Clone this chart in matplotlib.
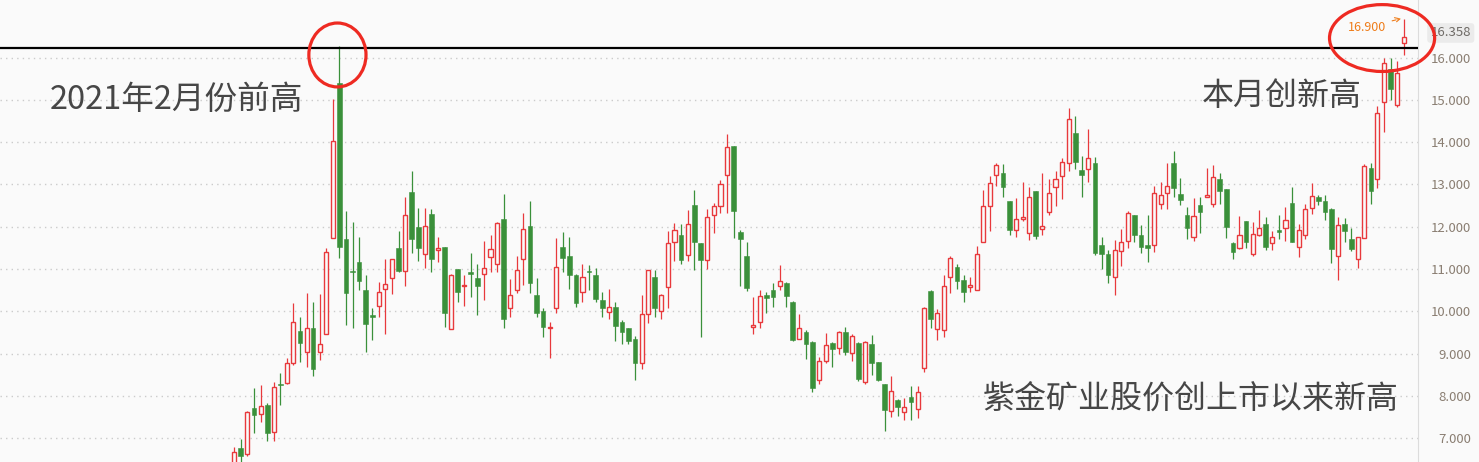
import matplotlib
matplotlib.use("Agg")
import matplotlib.pyplot as plt
import matplotlib.transforms as mtransforms
from matplotlib.patches import Ellipse
import numpy as np

plt.rcParams['font.family'] = ['Noto Sans CJK SC', 'DejaVu Sans']

# weekly candles, oldest first
opens = [6.35, 6.77, 6.64, 7.71, 7.57, 7.79, 7.16, 8.29, 8.32, 8.77,
         9.54, 9.03, 9.62, 9.03, 9.47, 11.73, 15.40, 11.71, 10.93, 11.17,
         10.51, 9.88, 10.12, 10.52, 10.80, 11.49, 10.95, 12.82, 11.99, 11.35,
         12.30, 11.44, 11.52, 9.58, 11.00, 10.59, 10.89, 10.79, 10.88, 11.28,
         11.11, 12.18, 10.07, 10.50, 11.25, 12.02, 10.39, 10.01, 9.60, 10.07,
         11.52, 11.31, 10.86, 10.47, 10.93, 10.86, 10.27, 9.98, 10.10, 9.75,
         9.61, 9.35, 8.77, 9.95, 10.81, 10.00, 10.57, 11.63, 11.81, 11.34,
         12.51, 11.62, 11.21, 12.29, 12.50, 13.22, 13.91, 11.88, 11.31, 9.64,
         9.74, 10.39, 10.51, 10.59, 10.67, 10.22, 9.34, 9.51, 9.28, 8.37,
         8.82, 9.25, 9.13, 9.51, 9.01, 9.25, 8.34, 9.23, 8.80, 8.29,
         7.64, 7.91, 7.62, 7.98, 7.69, 8.66, 10.48, 9.59, 9.55, 10.82,
         11.05, 10.74, 10.58, 10.50, 11.63, 12.48, 13.22, 13.27, 12.61, 11.92,
         12.18, 11.85, 12.85, 11.94, 12.34, 12.93, 13.21, 13.50, 14.22, 13.34,
         13.36, 13.51, 11.56, 11.36, 10.81, 11.42, 11.66, 12.29, 11.80, 11.57,
         11.56, 12.55, 12.81, 13.50, 12.77, 12.29, 11.77, 12.51, 12.70, 12.55,
         13.14, 12.89, 11.61, 11.50, 12.14, 11.35, 11.80, 12.06, 11.61, 11.92,
         11.96, 12.56, 11.52, 11.80, 12.44, 12.70, 12.61, 12.42, 11.30, 12.07,
         11.71, 11.25, 11.74, 13.39, 13.12, 14.94, 15.72, 14.88, 16.34]
highs = [6.79, 6.98, 7.65, 8.19, 8.26, 7.84, 8.33, 8.54, 8.90, 10.20,
         9.87, 10.44, 10.22, 10.41, 11.51, 15.02, 16.27, 12.37, 12.12, 11.76,
         10.86, 10.08, 10.70, 11.25, 11.25, 11.90, 12.70, 13.32, 12.44, 12.44,
         12.42, 11.76, 11.52, 10.88, 11.00, 10.86, 11.38, 11.12, 11.67, 11.81,
         12.12, 12.77, 10.77, 11.31, 12.33, 12.61, 10.79, 10.08, 9.75, 11.73,
         11.88, 11.76, 10.89, 11.12, 11.10, 11.02, 10.46, 10.53, 10.22, 9.80,
         9.61, 9.42, 10.39, 10.99, 10.99, 10.41, 11.90, 12.09, 12.07, 12.40,
         12.87, 11.62, 12.42, 12.56, 13.11, 14.19, 13.91, 11.92, 11.64, 10.34,
         10.51, 10.46, 10.67, 11.10, 10.69, 10.25, 9.94, 9.56, 9.31, 8.92,
         9.49, 9.28, 9.53, 9.63, 9.47, 9.28, 9.30, 9.44, 8.80, 8.29,
         8.47, 7.93, 7.95, 8.24, 8.24, 10.10, 10.51, 10.05, 10.86, 11.31,
         11.12, 10.86, 10.82, 11.55, 12.87, 13.20, 13.51, 13.48, 12.61, 12.67,
         13.06, 12.93, 12.85, 13.27, 13.13, 13.32, 13.63, 14.81, 14.62, 13.67,
         14.31, 13.65, 11.76, 11.44, 11.68, 11.95, 12.37, 12.29, 12.04, 12.28,
         12.96, 13.06, 13.51, 13.79, 13.15, 12.46, 12.68, 12.70, 13.38, 13.45,
         13.27, 12.89, 11.63, 12.25, 12.14, 12.12, 12.40, 12.22, 11.89, 12.28,
         12.46, 12.93, 12.06, 12.54, 13.04, 12.74, 12.74, 12.44, 12.24, 12.20,
         11.97, 11.76, 13.48, 13.50, 14.85, 16.00, 16.00, 15.91, 16.90]
lows = [6.30, 6.40, 6.59, 7.13, 7.39, 6.95, 6.95, 7.80, 8.29, 8.73,
        8.81, 8.69, 8.48, 8.86, 9.47, 11.73, 11.27, 9.68, 9.62, 10.50,
        9.03, 9.33, 9.88, 9.47, 10.42, 10.94, 10.59, 11.37, 11.18, 11.03,
        10.94, 11.16, 9.64, 9.58, 10.23, 10.14, 10.35, 9.92, 10.26, 10.92,
        10.92, 9.62, 9.88, 10.44, 10.63, 10.44, 9.88, 9.40, 8.91, 9.97,
        10.94, 10.54, 10.11, 10.23, 10.51, 10.23, 9.88, 9.83, 9.29, 9.22,
        9.22, 8.37, 8.63, 9.72, 9.88, 9.83, 10.09, 11.20, 11.13, 11.18,
        10.99, 9.40, 11.01, 11.86, 12.33, 12.33, 11.74, 10.61, 10.49, 9.47,
        9.62, 9.97, 10.11, 10.51, 10.11, 9.29, 9.34, 8.88, 8.10, 8.29,
        8.77, 8.69, 9.00, 8.98, 8.84, 8.36, 8.29, 8.50, 8.36, 7.18,
        7.51, 7.54, 7.43, 7.43, 7.49, 8.58, 9.61, 9.33, 9.40, 10.44,
        10.54, 10.23, 10.47, 10.50, 11.63, 11.91, 12.97, 12.71, 11.81, 11.75,
        12.14, 11.68, 11.70, 11.81, 12.29, 12.48, 12.66, 13.33, 13.37, 12.71,
        13.05, 11.34, 11.01, 10.66, 10.40, 11.08, 11.51, 11.65, 11.39, 11.17,
        11.41, 12.41, 12.43, 12.71, 12.52, 11.70, 11.67, 11.86, 12.70, 12.46,
        12.55, 11.74, 11.23, 11.47, 11.49, 11.32, 11.78, 11.45, 11.44, 11.71,
        11.67, 11.63, 11.28, 11.72, 12.30, 12.52, 12.16, 11.14, 10.74, 11.65,
        11.42, 11.02, 11.74, 12.55, 12.91, 14.23, 15.00, 14.84, 16.05]
closes = [6.67, 6.59, 7.62, 7.56, 7.76, 7.13, 8.21, 8.25, 8.77, 9.74,
          9.26, 9.62, 8.65, 9.22, 11.40, 14.02, 11.53, 10.44, 10.92, 10.73,
          9.71, 9.87, 10.45, 10.64, 11.25, 10.96, 12.29, 11.72, 11.51, 12.03,
          11.25, 11.51, 9.97, 10.86, 10.47, 10.62, 10.88, 10.61, 11.02, 11.47,
          12.08, 9.83, 10.40, 10.99, 11.94, 10.66, 9.97, 9.64, 9.63, 11.04,
          11.27, 10.87, 10.21, 10.81, 10.92, 10.30, 10.09, 10.10, 9.66, 9.52,
          9.29, 8.77, 9.93, 10.99, 10.09, 10.38, 11.61, 11.92, 11.22, 12.06,
          11.65, 11.22, 12.22, 12.48, 13.00, 13.88, 12.38, 11.72, 10.56, 9.67,
          10.36, 10.32, 10.35, 10.71, 10.37, 9.33, 9.60, 9.24, 8.20, 8.83,
          9.20, 9.12, 9.51, 9.05, 9.42, 8.41, 9.27, 8.79, 8.39, 7.66,
          8.11, 7.75, 7.73, 7.85, 8.09, 10.07, 9.83, 9.96, 10.59, 11.26,
          10.73, 10.47, 10.60, 11.35, 12.48, 13.03, 13.45, 12.95, 11.93, 12.18,
          12.20, 12.70, 11.79, 12.03, 12.81, 13.12, 13.53, 14.54, 13.52, 13.23,
          13.62, 11.39, 11.35, 10.85, 11.44, 11.63, 12.32, 11.81, 11.53, 11.49,
          12.81, 12.74, 12.96, 12.92, 12.64, 11.96, 12.25, 12.36, 12.72, 13.17,
          12.85, 12.00, 11.40, 11.81, 11.65, 11.82, 11.98, 11.53, 11.77, 11.87,
          12.15, 11.65, 11.92, 12.41, 12.72, 12.62, 12.34, 11.48, 12.04, 11.91,
          11.48, 11.76, 13.44, 12.85, 14.68, 15.86, 15.25, 15.63, 16.49]

price_ticks = [7, 8, 9, 10, 11, 12, 13, 14, 15, 16]
prev_high = 16.23
last_price = "16.358"
max_label = "16.900"

bg = '#fafafa'
up_color = '#e8393c'
down_color = '#3a903a'
text_color = '#464646'

o = np.array(opens)
h = np.array(highs)
l = np.array(lows)
c = np.array(closes)
x = np.arange(len(o))
up = c >= o

fig = plt.figure(figsize=(14.79, 4.62), dpi=100, facecolor=bg)
ax = fig.add_axes([0, 0, 1418 / 1479, 1])
ax.set_facecolor(bg)

for v in price_ticks:
    ax.axhline(v, color='#cbcbcb', lw=1, ls=(0, (1, 3)), zorder=0)

# wicks
ax.vlines(x[up], l[up], h[up], color=up_color, lw=0.9, zorder=2)
ax.vlines(x[~up], l[~up], h[~up], color=down_color, lw=0.9, zorder=2)

# bodies
body = np.maximum(np.abs(c - o), 0.04)
bottom = np.minimum(o, c)
ax.bar(x[up], body[up], bottom=bottom[up], width=0.62,
       facecolor=bg, edgecolor=up_color, linewidth=1.0, zorder=3)
ax.bar(x[~up], body[~up], bottom=bottom[~up], width=0.72,
       facecolor=down_color, edgecolor=down_color, linewidth=0.4, zorder=3)

ax.axhline(prev_high, color='black', lw=1.6, zorder=4)

# circles
ax.add_patch(Ellipse((15.7, 16.06), 8.7, 1.51, fill=False,
                     edgecolor='#ee2a22', lw=2.3, zorder=5, clip_on=False))
ax.add_patch(Ellipse((174.7, 16.46), 16.0, 1.58, fill=False,
                     edgecolor='#ee2a22', lw=2.3, zorder=5, clip_on=False))

ax.annotate(max_label, xy=(177.6, 16.92), xytext=(175.4, 16.72),
            ha='right', va='center', fontsize=9, color='#ef7d1a',
            arrowprops=dict(arrowstyle='->', ls='--', color='#ef7d1a',
                            lw=0.8, shrinkA=2, shrinkB=0), zorder=6)

ax.text(-28.05, 15.0, '2021年2月份前高', fontsize=23.5, color=text_color,
        ha='left', va='center')
ax.text(147.2, 15.09, '本月创新高', fontsize=23, color=text_color,
        ha='left', va='center')
ax.text(113.9, 7.93, '紫金矿业股价创上市以来新高', fontsize=23,
        color=text_color, ha='left', va='center')

ax.set_xlim(-35.66, 180.17)
ax.set_ylim(6.442, 17.359)
ax.set_xticks([])
ax.yaxis.tick_right()
ax.set_yticks(price_ticks)
ax.set_yticklabels(['%.3f' % v for v in price_ticks])
ax.tick_params(axis='y', length=0, pad=38, labelsize=9.5, labelcolor='#8a7e72')
for lab in ax.get_yticklabels():
    lab.set_ha('right')

for side in ['top', 'left', 'bottom']:
    ax.spines[side].set_visible(False)
ax.spines['right'].set_color('#dcdcdc')

trans = mtransforms.blended_transform_factory(ax.transAxes, ax.transData)
ax.text(1471 / 1418, 16.58, last_price, transform=trans, ha='right',
        va='center', fontsize=9.5, color='#6e6a66', clip_on=False,
        bbox=dict(boxstyle='round,pad=0.25', fc='#ebebeb', ec='none'))

fig.savefig('out.png', dpi=100, facecolor=bg)
